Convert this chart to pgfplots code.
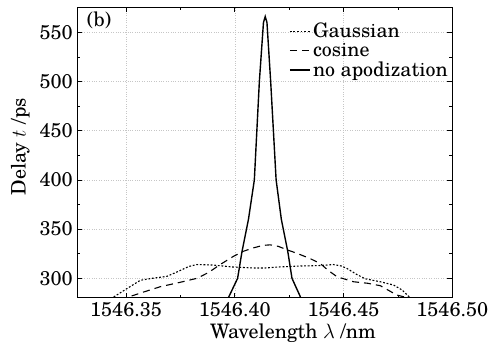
\documentclass[border=0pt]{standalone}
\usepackage{fontspec}
\setmainfont{TeX Gyre Schola}
\usepackage{pgfplots}
\pgfplotsset{compat=1.18}
\begin{document}
\begin{tikzpicture}[font=\fontsize{20}{23}\selectfont]
\begin{axis}[
  scale only axis,
  width=375bp, height=290.4bp,
  xmin=1546.3276, xmax=1546.5,
  ymin=280.3, ymax=575.4,
  xtick={1546.35,1546.40,1546.45,1546.50},
  xticklabels={1546.35,1546.40,1546.45,1546.50},
  ytick={300,350,400,450,500,550},
  minor xtick={1546.325,1546.375,1546.425,1546.475},
  minor ytick={325,375,425,475,525,575},
  tick align=inside,
  major tick length=5bp, minor tick length=3bp,
  tick style={black, line width=0.6pt},
  axis line style={line width=0.8pt},
  grid=major,
  major grid style={dotted, gray!45, line width=0.5pt},
  /pgf/number format/assume math mode=true,
  tick label style={font=\fontsize{20}{23}\selectfont},
  scaled x ticks=false,
  xticklabel style={yshift=-1bp},
  yticklabel style={xshift=-1bp},
  xlabel={Wavelength $\lambda$ /nm},
  ylabel={Delay $t$ /ps},
  xlabel style={at={(rel axis cs:0.575,0)}, anchor=north, yshift=-23bp},
  ylabel style={at={(rel axis cs:-0.152,0.52)}, anchor=center},
  legend style={draw=none, fill=none, at={(rel axis cs:0.995,0.955)}, anchor=north east,
    font=\fontsize{20}{23}\selectfont, row sep=-1bp, inner sep=0bp,
    nodes={inner sep=2.5bp}},
  legend cell align=left,
  legend image code/.code={\draw[#1] (0bp,0bp) -- (20bp,0bp);},
  clip=true,
]
\addplot[black, line width=1.1pt, dash pattern=on 1.8bp off 1.8bp] coordinates {
(1546.3420,276) (1546.3436,280) (1546.3500,289) (1546.3566,298) (1546.3620,300)
(1546.3688,302) (1546.3740,307) (1546.3788,312) (1546.3826,314) (1546.3900,313.5)
(1546.3990,311.5) (1546.4087,310.5) (1546.4140,310.5) (1546.4200,311.5) (1546.4300,312.5)
(1546.4393,313) (1546.4454,314) (1546.4490,312.5) (1546.4516,310) (1546.4560,304)
(1546.4600,299.5) (1546.4669,296.5) (1546.4730,293.2) (1546.4770,288) (1546.4807,280) (1546.4820,276)
};
\addlegendentry{Gaussian}
\addplot[black, line width=1.1pt, dash pattern=on 7bp off 5bp] coordinates {
(1546.3480,276) (1546.3497,280) (1546.3580,286) (1546.3658,291.5) (1546.3750,296)
(1546.3826,300) (1546.3880,306) (1546.3933,314) (1546.3995,322.5) (1546.4040,327.5)
(1546.4087,331) (1546.4130,333.5) (1546.4163,334) (1546.4200,332.5) (1546.4240,329)
(1546.4286,325.4) (1546.4347,320) (1546.4393,315) (1546.4430,308) (1546.4470,301.6)
(1546.4546,296.5) (1546.4610,295) (1546.4669,292.5) (1546.4745,283) (1546.4800,280) (1546.4815,276)
};
\addlegendentry{cosine}
\addplot[black, line width=1.4pt] coordinates {
(1546.3960,276) (1546.3970,280) (1546.4013,300) (1546.4033,327) (1546.4063,360)
(1546.4090,400) (1546.4113,500) (1546.4132,560) (1546.4140,566) (1546.4148,560)
(1546.4165,500) (1546.4190,400) (1546.4214,360) (1546.4244,327) (1546.4263,300)
(1546.4304,280) (1546.4312,276)
};
\addlegendentry{no apodization}
\node[anchor=north west, inner sep=0pt] at (rel axis cs:0.025,0.985) {(b)};
\coordinate (bl) at (rel axis cs:0,0);
\coordinate (tr) at (rel axis cs:1,1);
\end{axis}
\pgfresetboundingbox
\path ([shift={(-77.3bp,-48.3bp)}]bl) rectangle ([shift={(46.7bp,7.3bp)}]tr);
\end{tikzpicture}
\end{document}
